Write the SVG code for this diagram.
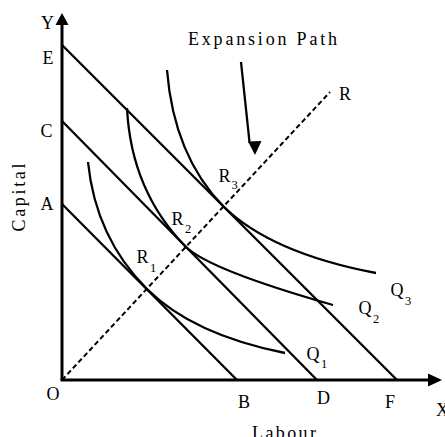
<svg xmlns="http://www.w3.org/2000/svg" width="445" height="437" viewBox="0 0 445 437">
<style>
.ln{stroke:#000;stroke-width:2.3;fill:none;stroke-linecap:butt}
.ax{stroke:#000;stroke-width:3;fill:none}
.dash{stroke:#000;stroke-width:2;fill:none;stroke-dasharray:5,3}
text{font-family:"Liberation Serif","Times New Roman",serif;fill:#000}
.lb{font-size:18px}
.sb{font-size:12.5px}
</style>
<rect width="445" height="437" fill="#fff"/>
<g id="axes">
<path class="ax" d="M62,380 V24"/>
<path d="M62,13 L55.5,25 L68.5,25 Z" fill="#000"/>
<path class="ax" d="M60.5,380 H429"/>
<path d="M442,380 L428,373.5 L428,386.5 Z" fill="#000"/>
</g>
<g id="budget-lines">
<path class="ln" d="M62,204 L237,380"/>
<path class="ln" d="M62,121 L317,380"/>
<path class="ln" d="M62,45 L397,380"/>
</g>
<g id="isoquants">
<path id="Q1" class="ln" d="M88,162 Q95.6,237.6 147,289 Q192.5,334.5 285,353"/>
<path id="Q2" class="ln" d="M127,108 Q131.1,191.2 186,247 Q210,270 333,305"/>
<path id="Q3" class="ln" d="M167,70 Q173.9,155.9 223.5,206.5 Q271,253 376,273"/>
</g>
<g id="expansion-path">
<path class="dash" d="M62,380 L330,92"/>
<path class="ln" d="M241,62 L249.6,143"/>
<path d="M255,155 L248,141.5 L261.5,141 Z" fill="#000"/>
</g>
<g id="labels">
<text class="lb" x="41" y="29">Y</text>
<text class="lb" x="42.5" y="64">E</text>
<text class="lb" x="40.5" y="137">C</text>
<text class="lb" x="40.5" y="210">A</text>
<text class="lb" x="46.5" y="400">O</text>
<text class="lb" x="238" y="408">B</text>
<text class="lb" x="317" y="404">D</text>
<text class="lb" x="385" y="408">F</text>
<text class="lb" x="436" y="416">X</text>
<text class="lb" x="339" y="100">R</text>
<text class="lb" x="218.5" y="182">R</text><text class="sb" x="231.5" y="189">3</text>
<text class="lb" x="171.5" y="225">R</text><text class="sb" x="185" y="233">2</text>
<text class="lb" x="136.5" y="263">R</text><text class="sb" x="150" y="272">1</text>
<text class="lb" x="306.5" y="360">Q</text><text class="sb" x="321" y="368">1</text>
<text class="lb" x="358.5" y="314">Q</text><text class="sb" x="373" y="323">2</text>
<text class="lb" x="390.5" y="296">Q</text><text class="sb" x="405" y="305">3</text>
<text class="lb" x="188" y="45" textLength="149" lengthAdjust="spacing">Expansion Path</text>
<text class="lb" x="252" y="439" textLength="64" lengthAdjust="spacing">Labour</text>
<text class="lb" transform="translate(25,197.5) rotate(-90)" text-anchor="middle" textLength="68" lengthAdjust="spacing">Capital</text>
</g>
</svg>
